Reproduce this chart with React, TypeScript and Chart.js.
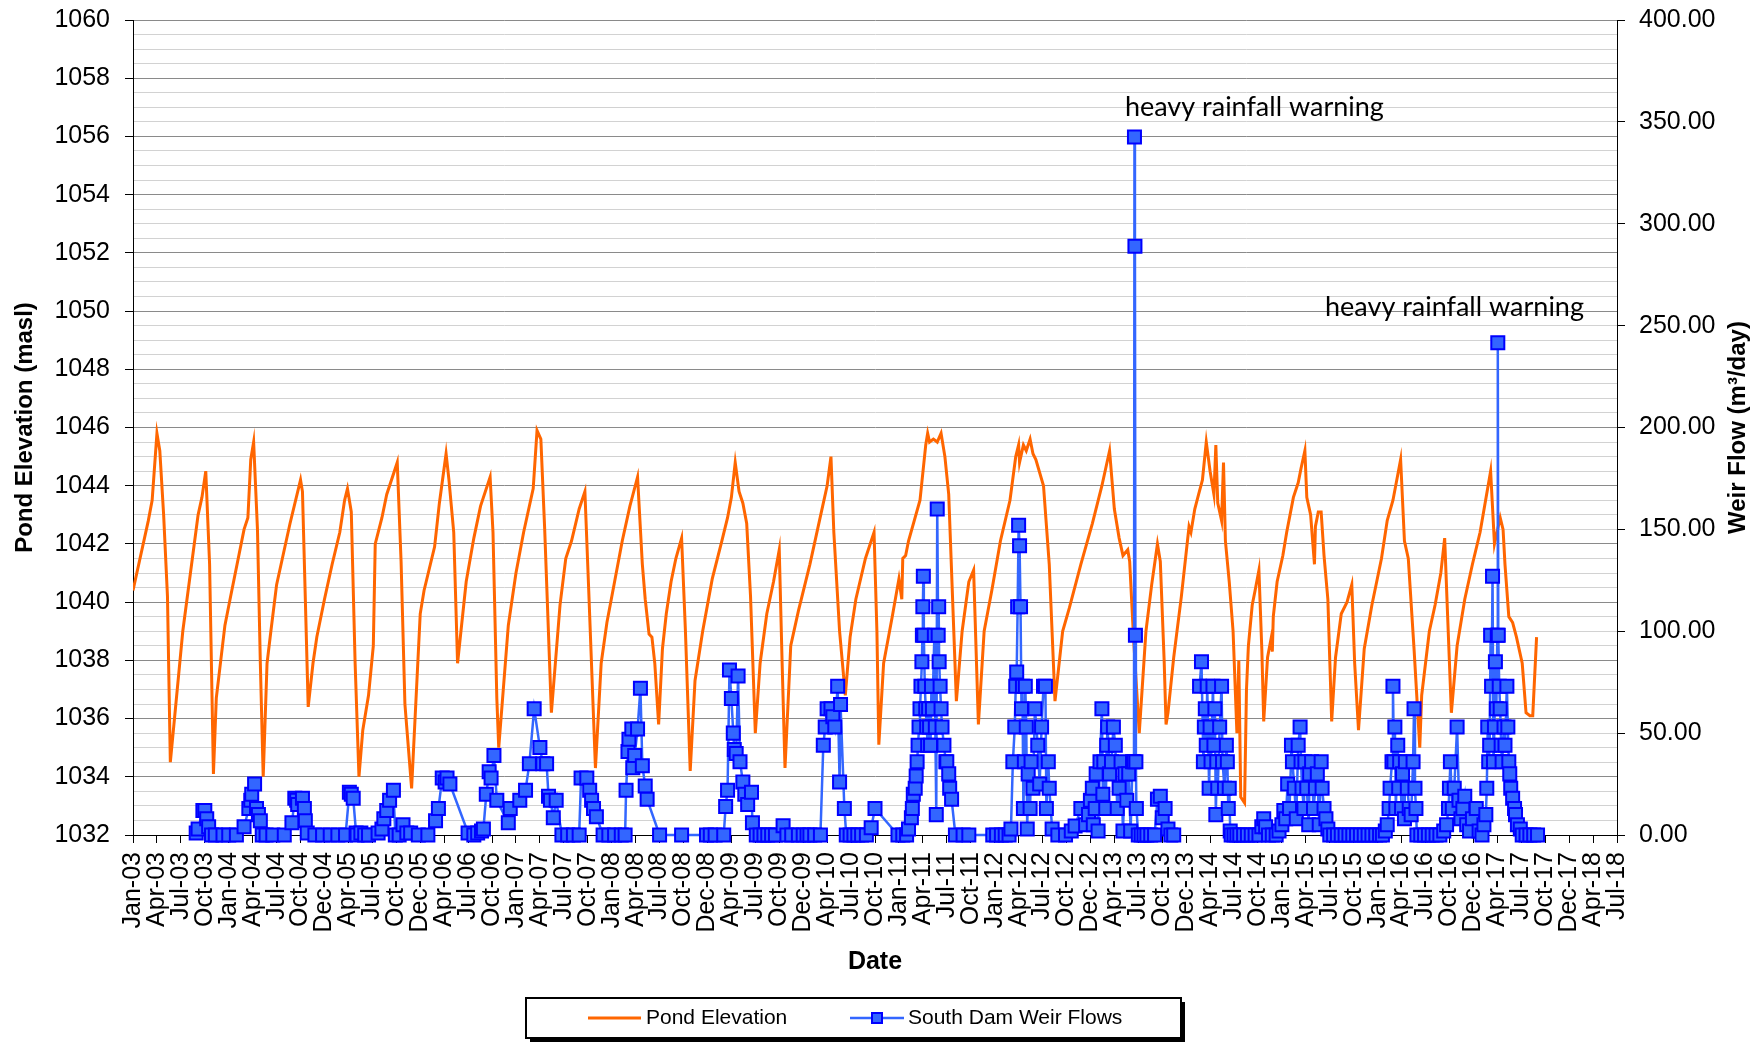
import React, { useEffect, useRef } from "react";
import { Chart, registerables } from "chart.js";

Chart.register(...registerables);

const FONT = "'Liberation Sans', Arial, Helvetica, sans-serif";
const NOTE_FONT = "Lato, 'Open Sans', sans-serif";

// ---- axis tick labels ----
const xTickLabels = [
  "Jan-03", "Apr-03", "Jul-03", "Oct-03", "Jan-04", "Apr-04", "Jul-04", "Oct-04",
  "Dec-04", "Apr-05", "Jul-05", "Oct-05", "Dec-05", "Apr-06", "Jul-06", "Oct-06",
  "Jan-07", "Apr-07", "Jul-07", "Oct-07", "Jan-08", "Apr-08", "Jul-08", "Oct-08",
  "Dec-08", "Apr-09", "Jul-09", "Oct-09", "Dec-09", "Apr-10", "Jul-10", "Oct-10",
  "Jan-11", "Apr-11", "Jul-11", "Oct-11", "Jan-12", "Apr-12", "Jul-12", "Oct-12",
  "Dec-12", "Apr-13", "Jul-13", "Oct-13", "Dec-13", "Apr-14", "Jul-14", "Oct-14",
  "Jan-15", "Apr-15", "Jul-15", "Oct-15", "Jan-16", "Apr-16", "Jul-16", "Oct-16",
  "Dec-16", "Apr-17", "Jul-17", "Oct-17", "Dec-17", "Apr-18", "Jul-18",
];
const xStart = 2003;
const xEnd = 2018.5;
const xTickStep = 0.25;

const leftMin = 1032;
const leftMax = 1060;
const leftLabelStep = 2;
const leftGridStep = 0.5;

const rightTicks = [0, 50, 100, 150, 200, 250, 300, 350, 400];

// ---- Pond Elevation (masl), x = decimal year ----
const pondYears = [
  2003.00, 2003.16, 2003.20, 2003.25, 2003.28, 2003.32, 2003.36, 2003.39, 2003.52, 2003.68, 2003.72, 2003.76, 2003.80, 2003.84, 2003.87, 2003.96,
  2004.02, 2004.16, 2004.20, 2004.23, 2004.26, 2004.30, 2004.33, 2004.36, 2004.40, 2004.44, 2004.50, 2004.56, 2004.64, 2004.75, 2004.77, 2004.83, 2004.88, 2004.92,
  2005.00, 2005.08, 2005.16, 2005.21, 2005.24, 2005.28, 2005.32, 2005.36, 2005.40, 2005.46, 2005.51, 2005.53, 2005.60, 2005.65, 2005.76, 2005.80, 2005.84, 2005.91,
  2006.00, 2006.04, 2006.15, 2006.20, 2006.27, 2006.30, 2006.35, 2006.39, 2006.48, 2006.56, 2006.63, 2006.73, 2006.76, 2006.80, 2006.82, 2006.92,
  2007.00, 2007.08, 2007.18, 2007.22, 2007.26, 2007.30, 2007.37, 2007.46, 2007.52, 2007.58, 2007.66, 2007.72, 2007.76, 2007.83, 2007.89, 2007.95,
  2008.03, 2008.11, 2008.19, 2008.27, 2008.32, 2008.35, 2008.39, 2008.42, 2008.45, 2008.49, 2008.53, 2008.57, 2008.62, 2008.67, 2008.73, 2008.77, 2008.82, 2008.87, 2008.95,
  2009.05, 2009.15, 2009.21, 2009.25, 2009.29, 2009.33, 2009.37, 2009.41, 2009.45, 2009.50, 2009.55, 2009.62, 2009.69, 2009.75, 2009.78, 2009.81, 2009.87, 2009.95,
  2010.07, 2010.17, 2010.25, 2010.29, 2010.32, 2010.38, 2010.44, 2010.49, 2010.55, 2010.65, 2010.74, 2010.77, 2010.79, 2010.84, 2010.93,
  2011.00, 2011.03, 2011.04, 2011.07, 2011.10, 2011.22, 2011.28, 2011.30, 2011.32, 2011.36, 2011.40, 2011.44, 2011.48, 2011.52, 2011.60, 2011.66, 2011.73, 2011.78, 2011.83, 2011.89, 2011.97,
  2012.06, 2012.16, 2012.22, 2012.25, 2012.26, 2012.30, 2012.33, 2012.37, 2012.40, 2012.43, 2012.51, 2012.57, 2012.63, 2012.71, 2012.78, 2012.90,
  2013.02, 2013.12, 2013.20, 2013.25, 2013.30, 2013.34, 2013.39, 2013.41, 2013.45, 2013.51, 2013.58, 2013.64, 2013.70, 2013.73, 2013.77, 2013.79, 2013.81, 2013.87, 2013.95,
  2014.03, 2014.05, 2014.09, 2014.13, 2014.17, 2014.21, 2014.25, 2014.29, 2014.31, 2014.33, 2014.37, 2014.39, 2014.41, 2014.45, 2014.49, 2014.53, 2014.55, 2014.57, 2014.61, 2014.63, 2014.65, 2014.69, 2014.72, 2014.76, 2014.79, 2014.81, 2014.85, 2014.89, 2014.90, 2014.91, 2014.95,
  2015.01, 2015.05, 2015.12, 2015.17, 2015.20, 2015.24, 2015.26, 2015.30, 2015.34, 2015.35, 2015.38, 2015.41, 2015.44, 2015.48, 2015.52, 2015.56, 2015.62, 2015.68, 2015.73, 2015.76, 2015.80, 2015.86, 2015.94,
  2016.04, 2016.10, 2016.16, 2016.24, 2016.28, 2016.32, 2016.38, 2016.44, 2016.46, 2016.50, 2016.54, 2016.60, 2016.66, 2016.70, 2016.73, 2016.77, 2016.83, 2016.91, 2016.99,
  2017.07, 2017.18, 2017.22, 2017.28, 2017.31, 2017.33, 2017.37, 2017.41, 2017.45, 2017.51, 2017.55, 2017.59, 2017.62, 2017.66,
];
const pondElevation = [
  1040.4, 1042.8, 1043.5, 1045.8, 1045.2, 1043.0, 1040.2, 1034.5, 1039.0, 1043.0, 1043.6, 1044.5, 1041.3, 1034.1, 1036.7, 1039.2,
  1040.2, 1042.5, 1042.9, 1044.9, 1045.5, 1042.5, 1037.9, 1034.0, 1037.9, 1039.0, 1040.6, 1041.5, 1042.7, 1044.2, 1043.8, 1036.4, 1037.9, 1038.8,
  1040.1, 1041.3, 1042.4, 1043.5, 1043.9, 1043.1, 1037.9, 1034.0, 1035.6, 1036.8, 1038.5, 1042.0, 1042.9, 1043.7, 1044.8, 1041.4, 1036.5, 1033.6,
  1039.6, 1040.4, 1041.9, 1043.4, 1045.1, 1044.2, 1042.4, 1037.9, 1040.7, 1042.2, 1043.3, 1044.3, 1042.4, 1036.7, 1035.0, 1039.2,
  1041.0, 1042.4, 1043.9, 1045.9, 1045.6, 1042.5, 1036.2, 1039.9, 1041.5, 1042.1, 1043.2, 1043.8, 1040.4, 1034.3, 1037.9, 1039.3,
  1040.7, 1042.1, 1043.3, 1044.3, 1041.3, 1040.1, 1038.9, 1038.8, 1037.9, 1035.8, 1038.4, 1039.6, 1040.7, 1041.5, 1042.2, 1039.0, 1034.2, 1037.3, 1039.0,
  1040.8, 1042.1, 1042.9, 1043.6, 1044.8, 1043.8, 1043.4, 1042.7, 1040.2, 1035.5, 1037.9, 1039.6, 1040.7, 1041.8, 1037.9, 1034.3, 1038.5, 1039.7,
  1041.3, 1042.8, 1044.0, 1045.0, 1042.4, 1039.0, 1036.8, 1038.8, 1040.1, 1041.5, 1042.4, 1039.0, 1035.1, 1037.9, 1039.5,
  1040.8, 1040.1, 1041.5, 1041.6, 1042.1, 1043.5, 1045.4, 1045.8, 1045.5, 1045.6, 1045.5, 1045.8, 1045.0, 1043.7, 1036.6, 1039.0, 1040.7, 1041.1, 1035.8, 1039.0, 1040.4,
  1042.1, 1043.5, 1045.0, 1045.4, 1044.8, 1045.4, 1045.2, 1045.6, 1045.1, 1044.9, 1044.0, 1041.3, 1036.6, 1039.0, 1039.8, 1041.3,
  1042.7, 1044.0, 1045.2, 1043.2, 1042.2, 1041.6, 1041.8, 1041.4, 1038.8, 1035.5, 1039.0, 1040.6, 1042.0, 1041.4, 1038.0, 1035.8, 1036.2, 1038.1, 1040.2,
  1042.6, 1042.4, 1043.2, 1043.7, 1044.2, 1045.5, 1044.5, 1043.7, 1045.4, 1043.4, 1042.8, 1044.8, 1042.1, 1040.7, 1039.0, 1035.5, 1038.0, 1033.3, 1033.1, 1037.0, 1038.5, 1039.9, 1040.4, 1041.1, 1038.4, 1035.9, 1038.1, 1038.8, 1038.3, 1039.5, 1040.7,
  1041.6, 1042.4, 1043.6, 1044.1, 1044.6, 1045.2, 1043.6, 1043.0, 1041.3, 1042.6, 1043.1, 1043.1, 1041.6, 1040.1, 1035.9, 1038.1, 1039.6, 1040.0, 1040.6, 1037.9, 1035.6, 1038.4, 1039.9,
  1041.5, 1042.8, 1043.5, 1044.9, 1042.1, 1041.5, 1038.4, 1035.0, 1036.8, 1037.9, 1039.0, 1039.9, 1041.0, 1042.2, 1039.6, 1036.2, 1038.5, 1040.1, 1041.3,
  1042.4, 1044.5, 1042.0, 1042.9, 1042.5, 1041.3, 1039.5, 1039.3, 1038.8, 1037.9, 1036.2, 1036.1, 1036.1, 1038.8,
];

// ---- South Dam Weir Flows (m3/day), x = decimal year; null = no reading ----
const weirYears = [
  2003.66, 2003.68, 2003.73, 2003.75, 2003.77, 2003.79, 2003.82, 2003.86, 2003.94, 2004.00, 2004.08,
  2004.16, 2004.21, 2004.23, 2004.24, 2004.27, 2004.29, 2004.31, 2004.33, 2004.35, 2004.39, 2004.46, 2004.58, 2004.66, 2004.69, 2004.71, 2004.72, 2004.77, 2004.79, 2004.80, 2004.82, 2004.90, 2004.98,
  2005.06, 2005.14, 2005.22, 2005.26, 2005.28, 2005.30, 2005.33, 2005.34, 2005.38, 2005.42, 2005.46, 2005.56, 2005.60, 2005.62, 2005.65, 2005.68, 2005.72, 2005.74, 2005.78, 2005.82, 2005.86, 2005.90, 2005.98,
  2006.08, 2006.16, 2006.19, 2006.23, 2006.26, 2006.28, 2006.31, 2006.50, 2006.56, 2006.60, 2006.64, 2006.66, 2006.69, 2006.72, 2006.74, 2006.77, 2006.80, 2006.92, 2006.94,
  2007.04, 2007.10, 2007.14, 2007.19, 2007.25, 2007.28, 2007.32, 2007.34, 2007.36, 2007.39, 2007.42, 2007.48, 2007.54, 2007.60, 2007.66, 2007.68, 2007.74, 2007.77, 2007.79, 2007.81, 2007.84, 2007.91, 2007.97,
  2008.03, 2008.10, 2008.14, 2008.15, 2008.17, 2008.18, 2008.21, 2008.22, 2008.24, 2008.27, 2008.30, 2008.32, 2008.35, 2008.37, 2008.50, 2008.73, 2008.99,
  2009.03, 2009.08, 2009.17, 2009.19, 2009.21, 2009.23, 2009.25, 2009.27, 2009.28, 2009.30, 2009.32, 2009.34, 2009.37, 2009.39, 2009.42, 2009.46, 2009.47, 2009.51, 2009.55, 2009.59, 2009.63, 2009.67, 2009.71, 2009.79, 2009.83, 2009.88, 2009.95,
  2010.00, 2010.04, 2010.07, 2010.12, 2010.18, 2010.21, 2010.23, 2010.25, 2010.29, 2010.31, 2010.33, 2010.36, 2010.38, 2010.39, 2010.43, 2010.45, 2010.49, 2010.53, 2010.57, 2010.61, 2010.66, 2010.71, 2010.75, 2010.99,
  2011.04, 2011.08, 2011.10, 2011.13, 2011.14, 2011.15, 2011.17, 2011.18, 2011.19, 2011.20, 2011.21, 2011.22, 2011.23, 2011.24, 2011.245, 2011.25, 2011.255, 2011.26, 2011.27, 2011.28, 2011.29, 2011.30, 2011.31, 2011.32, 2011.33, 2011.34, 2011.35, 2011.37, 2011.38, 2011.39, 2011.40, 2011.41, 2011.415, 2011.42, 2011.43, 2011.44, 2011.45, 2011.47, 2011.49, 2011.50, 2011.52, 2011.53, 2011.55, 2011.59, 2011.67, 2011.73,
  2011.98, 2012.02, 2012.07, 2012.11, 2012.15, 2012.17, 2012.19, 2012.21, 2012.22, 2012.23, 2012.24, 2012.25, 2012.26, 2012.27, 2012.28, 2012.29, 2012.30, 2012.31, 2012.32, 2012.33, 2012.34, 2012.35, 2012.37, 2012.38, 2012.40, 2012.42, 2012.45, 2012.47, 2012.49, 2012.51, 2012.53, 2012.54, 2012.56, 2012.57, 2012.60, 2012.66, 2012.74, 2012.80, 2012.84, 2012.90, 2012.95,
  2012.98, 2013.00, 2013.02, 2013.03, 2013.05, 2013.06, 2013.08, 2013.10, 2013.12, 2013.13, 2013.14, 2013.16, 2013.17, 2013.18, 2013.20, 2013.22, 2013.24, 2013.26, 2013.28, 2013.30, 2013.32, 2013.34, 2013.36, 2013.38, 2013.40, 2013.42, 2013.44, 2013.455, 2013.46, 2013.465, 2013.47, 2013.475, 2013.48, 2013.50, 2013.53, 2013.56, 2013.59, 2013.63, 2013.67, 2013.70, 2013.73, 2013.75, 2013.78, 2013.81, 2013.84, 2013.87,
  2014.00,
  2014.14, 2014.16, 2014.18, 2014.19, 2014.20, 2014.21, 2014.22, 2014.24, 2014.25, 2014.26, 2014.28, 2014.29, 2014.30, 2014.31, 2014.32, 2014.33, 2014.35, 2014.37, 2014.38, 2014.40, 2014.42, 2014.43, 2014.44, 2014.45, 2014.46, 2014.47, 2014.50, 2014.53, 2014.56, 2014.60, 2014.64, 2014.68, 2014.72, 2014.76, 2014.79, 2014.81, 2014.83, 2014.86, 2014.90, 2014.94,
  2014.97, 2015.00, 2015.02, 2015.04, 2015.06, 2015.08, 2015.10, 2015.11, 2015.13, 2015.15, 2015.17, 2015.19, 2015.20, 2015.21, 2015.23, 2015.24, 2015.26, 2015.28, 2015.29, 2015.31, 2015.33, 2015.35, 2015.37, 2015.39, 2015.41, 2015.42, 2015.44, 2015.46, 2015.48, 2015.50, 2015.54, 2015.58, 2015.62, 2015.66, 2015.70, 2015.74, 2015.78, 2015.82, 2015.86, 2015.90, 2015.94, 2015.98, 2016.02, 2016.05,
  2016.08, 2016.10, 2016.12, 2016.13, 2016.15, 2016.16, 2016.17, 2016.18, 2016.19, 2016.21, 2016.22, 2016.23, 2016.25, 2016.26, 2016.28, 2016.29, 2016.31, 2016.33, 2016.35, 2016.37, 2016.38, 2016.39, 2016.40, 2016.41, 2016.45, 2016.49, 2016.53, 2016.57, 2016.61, 2016.65, 2016.69, 2016.72, 2016.74, 2016.75, 2016.76, 2016.78, 2016.80, 2016.83, 2016.85, 2016.87, 2016.89, 2016.91, 2016.93, 2016.96, 2016.99, 2017.03, 2017.06, 2017.09, 2017.11,
  2017.13, 2017.14, 2017.15, 2017.16, 2017.17, 2017.18, 2017.19, 2017.20, 2017.21, 2017.22, 2017.23, 2017.24, 2017.25, 2017.255, 2017.26, 2017.27, 2017.28, 2017.29, 2017.30, 2017.32, 2017.33, 2017.35, 2017.36, 2017.37, 2017.38, 2017.39, 2017.41, 2017.43, 2017.44, 2017.46, 2017.49, 2017.51, 2017.55, 2017.59, 2017.63, 2017.67,
];
const weirFlows = [
  1, 3, 12, 12, 8, 4, 0, 0, 0, 0, 0,
  4, 13, 17, 20, 25, 13, 10, 7, 0, 0, 0, 0, 6, 18, 17, 15, 18, 13, 7, 1, 0, 0,
  0, 0, 0, 21, 20, 18, 1, 0, 1, 0, 0, 1, 3, 8, 12, 17, 22, 0, 0, 5, 1, 1, 0,
  0, 7, 13, 28, 26, 28, 25, 1, 0, 1, 2, 3, 20, 31, 28, 39, 17, 6, 13,
  17, 22, 35, 62, 43, 35, 35, 19, 17, 8.5, 17, 0, 0, 0, 0, 28, 28, 22, 17, 13, 9, 0, 0,
  0, 0, 0, 22, 41, 47, 52, 33, 39, 52, 72, 34, 24, 17.5, 0, 0, 0,
  0, 0, 0, 14, 22, 81, 67, 50, 42, 40, 78, 36, 26, 20, 15, 21, 6, 0, 0, 0, 0, 0, 0, 4.5, 0, 0, 0,
  0, 0, 0, 0, 0, 44, 53, 62, 62, 58, 53, 73, 26, 64, 13, 0, 0, 0, 0, 0, 0, 3.6, 13, 0,
  0, 0, 3, 8.5, 13, 20, 23, 29, 36, 44, 53, 62, 73, 85, 98, 112, 127, 98, 73, 62, 53, 44, 62, 53, 44, 73, 62, 98, 53, 10, 160, 98, 112, 85, 73, 62, 53, 44, 36, 36, 30, 23, 17.5, 0, 0, 0,
  0, 0, 0, 0, 0, 3, 36, 53, 73, 80, 112, 152, 142, 112, 62, 73, 13, 36, 73, 53, 3, 30, 13, 36, 23, 62, 44, 25, 53, 73, 73, 13, 36, 23, 3, 0, 0, 2, 4.4, 13, 5,
  10, 17, 23, 5, 13, 30, 2, 36, 62, 20, 36, 13, 44, 53, 30, 36, 53, 44, 13, 23, 36, 2, 30, 17, 30, 2, 36, 36, 342.6, 289, 98, 36, 13, 0, 0, 0, 0, 0, 0, 17.5, 19, 8.5, 13, 3, 0, 0,
  null,
  73, 85, 36, 53, 62, 44, 73, 23, 53, 36, 73, 44, 62, 10, 36, 23, 53, 73, 36, 23, 44, 36, 13, 23, 2, 0, 0, 0, 0, 0, 0, 0, 0, 0, 4, 8, 4, 0, 0, 0,
  2, 5, 12, 8, 25, 13, 44, 36, 23, 8, 44, 53, 36, 23, 13, 36, 23, 5, 30, 36, 13, 23, 30, 5, 36, 23, 13, 8, 3, 0, 0, 0, 0, 0, 0, 0, 0, 0, 0, 0, 0, 0, 0, 0,
  2, 5, 13, 23, 36, 73, 36, 53, 13, 44, 23, 36, 13, 30, 8, 36, 23, 13, 10, 36, 62, 23, 13, 0, 0, 0, 0, 0, 0, 0, 2, 5, 13, 23, 36, 13, 23, 53, 17, 8, 13, 19, 5, 2, 8, 13, 2, 0, 5,
  10, 23, 53, 36, 44, 98, 73, 127, 36, 53, 85, 62, 98, 241.6, 98, 73, 62, 44, 36, 53, 44, 73, 53, 36, 30, 23, 18, 13, 10, 5, 3, 0, 0, 0, 0, 0,
];

// ---- annotations (anchored in data coordinates: year, weir flow) ----
const annotationLabels = ["heavy rainfall warning", "heavy rainfall warning"];
const annotationYears = [2013.36, 2015.45];
const annotationFlows = [357, 259];

const LEFT_TITLE = "Pond Elevation (masl)";
const RIGHT_TITLE = "Weir Flow (m\u00B3/day)";
const X_TITLE = "Date";

const ORANGE = "#FF6600";
const BLUE_LINE = "#3366FF";
const BLUE_FILL = "#3366FF";
const BLUE_EDGE = "#0000FF";

const overlayPlugin = {
  id: "overlay",
  afterDraw(chart: any) {
    const { ctx, chartArea, scales } = chart;

    // right axis title (reads bottom-to-top)
    ctx.save();
    ctx.translate(1738, (chartArea.top + chartArea.bottom) / 2);
    ctx.rotate(-Math.PI / 2);
    ctx.font = `bold 24px ${FONT}`;
    ctx.fillStyle = "#000";
    ctx.textAlign = "center";
    ctx.textBaseline = "middle";
    ctx.fillText(RIGHT_TITLE, 0, 0);
    ctx.restore();

    // annotations
    ctx.save();
    ctx.font = `27px ${NOTE_FONT}`;
    ctx.fillStyle = "#000";
    ctx.textAlign = "left";
    ctx.textBaseline = "middle";
    annotationLabels.forEach((t, i) => {
      const px = scales.x.getPixelForValue(annotationYears[i]);
      const py = scales.y1.getPixelForValue(annotationFlows[i]);
      ctx.fillText(t, px, py);
    });
    ctx.restore();

    // legend box
    const lx = 526, ly = 998, lw = 655, lh = 40;
    const cy = ly + lh / 2;
    ctx.save();
    ctx.fillStyle = "#000";
    ctx.fillRect(lx + 4, ly + 4, lw, lh);
    ctx.fillStyle = "#fff";
    ctx.fillRect(lx, ly, lw, lh);
    ctx.lineWidth = 2;
    ctx.strokeStyle = "#000";
    ctx.strokeRect(lx, ly, lw, lh);

    const ds = chart.data.datasets;
    // Pond Elevation entry
    ctx.strokeStyle = ORANGE;
    ctx.lineWidth = 3;
    ctx.beginPath();
    ctx.moveTo(588, cy);
    ctx.lineTo(641, cy);
    ctx.stroke();
    ctx.font = `21px ${FONT}`;
    ctx.fillStyle = "#000";
    ctx.textAlign = "left";
    ctx.textBaseline = "middle";
    ctx.fillText(ds[0].label, 646, cy);

    // Weir flows entry
    ctx.strokeStyle = BLUE_LINE;
    ctx.lineWidth = 2.5;
    ctx.beginPath();
    ctx.moveTo(850, cy);
    ctx.lineTo(904, cy);
    ctx.stroke();
    ctx.fillStyle = BLUE_FILL;
    ctx.fillRect(872, cy - 5, 10, 10);
    ctx.strokeStyle = BLUE_EDGE;
    ctx.lineWidth = 2;
    ctx.strokeRect(872, cy - 5, 10, 10);
    ctx.fillStyle = "#000";
    ctx.fillText(ds[1].label, 908, cy);
    ctx.restore();
  },
};

export default function App() {
  const ref = useRef<HTMLCanvasElement | null>(null);

  useEffect(() => {
    const canvas = ref.current;
    if (!canvas) return;

    const pondData = pondYears.map((x, i) => ({ x, y: pondElevation[i] }));
    const weirData = weirYears.map((x, i) => ({ x, y: weirFlows[i] }));

    const chart = new Chart(canvas, {
      type: "line",
      data: {
        datasets: [
          {
            label: "Pond Elevation",
            data: pondData,
            xAxisID: "x",
            yAxisID: "y",
            borderColor: ORANGE,
            backgroundColor: ORANGE,
            borderWidth: 3,
            pointRadius: 0,
            tension: 0,
            order: 2,
          },
          {
            label: "South Dam Weir Flows",
            data: weirData,
            xAxisID: "x",
            yAxisID: "y1",
            borderColor: BLUE_LINE,
            backgroundColor: BLUE_FILL,
            borderWidth: 2.5,
            pointStyle: "rect",
            pointRadius: 9.2,
            pointBackgroundColor: BLUE_FILL,
            pointBorderColor: BLUE_EDGE,
            pointBorderWidth: 2,
            tension: 0,
            spanGaps: false,
            clip: false,
            order: 1,
          },
        ],
      } as any,
      plugins: [overlayPlugin],
      options: {
        responsive: false,
        animation: false,
        events: [],
        layout: { padding: { top: 20, left: 0, right: 0, bottom: 0 } },
        plugins: {
          legend: { display: false },
          tooltip: { enabled: false },
          title: { display: false },
        },
        scales: {
          x: {
            type: "linear",
            position: "bottom",
            min: xStart,
            max: xEnd,
            afterBuildTicks: (s: any) => {
              s.ticks = xTickLabels.map((_, i) => ({ value: xStart + i * xTickStep }));
            },
            afterFit: (s: any) => {
              s.height = 210;
              s.paddingLeft = 0;
              s.paddingRight = 0;
            },
            ticks: {
              autoSkip: false,
              minRotation: 90,
              maxRotation: 90,
              padding: 9,
              color: "#000",
              font: { family: FONT, size: 25 },
              callback: (_v: any, i: number) => xTickLabels[i],
            },
            grid: {
              drawOnChartArea: false,
              drawTicks: true,
              tickLength: 8,
              color: "#000",
            },
            border: { color: "#000", width: 1 },
            title: {
              display: true,
              text: X_TITLE,
              color: "#000",
              font: { family: FONT, size: 25, weight: "bold" },
              padding: { top: 0, bottom: 68 },
            },
          },
          y: {
            type: "linear",
            position: "left",
            min: leftMin,
            max: leftMax,
            afterBuildTicks: (s: any) => {
              const t: any[] = [];
              const n = Math.round((leftMax - leftMin) / leftGridStep);
              for (let i = 0; i <= n; i++) t.push({ value: leftMin + i * leftGridStep });
              s.ticks = t;
            },
            afterFit: (s: any) => {
              s.width = 133;
              s.paddingTop = 0;
              s.paddingBottom = 0;
            },
            ticks: {
              autoSkip: false,
              padding: 15,
              color: "#000",
              font: { family: FONT, size: 25 },
              callback: (v: any) => ((v - leftMin) % leftLabelStep === 0 ? String(v) : ""),
            },
            grid: {
              lineWidth: 1,
              tickLength: 8,
              color: (c: any) => {
                const v = c.tick ? c.tick.value : 0;
                if (v === leftMin) return "#000";
                return (v - leftMin) % leftLabelStep === 0 ? "#8a8a8a" : "#d2d2d2";
              },
              tickColor: (c: any) => {
                const v = c.tick ? c.tick.value : 0;
                return (v - leftMin) % leftLabelStep === 0 ? "#000" : "rgba(0,0,0,0)";
              },
            },
            border: { color: "#000", width: 1 },
            title: {
              display: true,
              text: LEFT_TITLE,
              color: "#000",
              font: { family: FONT, size: 24, weight: "bold" },
              padding: { top: 11, bottom: 0 },
            },
          },
          y1: {
            type: "linear",
            position: "right",
            min: rightTicks[0],
            max: rightTicks[rightTicks.length - 1],
            afterBuildTicks: (s: any) => {
              s.ticks = rightTicks.map((v) => ({ value: v }));
            },
            afterFit: (s: any) => {
              s.width = 147;
              s.paddingTop = 0;
              s.paddingBottom = 0;
            },
            ticks: {
              autoSkip: false,
              padding: 14,
              color: "#000",
              font: { family: FONT, size: 25 },
              callback: (v: any) => Number(v).toFixed(2),
            },
            grid: {
              drawOnChartArea: false,
              drawTicks: true,
              tickLength: 8,
              color: "#000",
            },
            border: { color: "#000", width: 1 },
          },
        },
      } as any,
    });

    return () => chart.destroy();
  }, []);

  return (
    <div
      style={{
        position: "fixed",
        left: 0,
        top: 0,
        width: 1764,
        height: 1045,
        background: "#fff",
      }}
    >
      <canvas ref={ref} width={1764} height={1045} style={{ display: "block" }} />
    </div>
  );
}
